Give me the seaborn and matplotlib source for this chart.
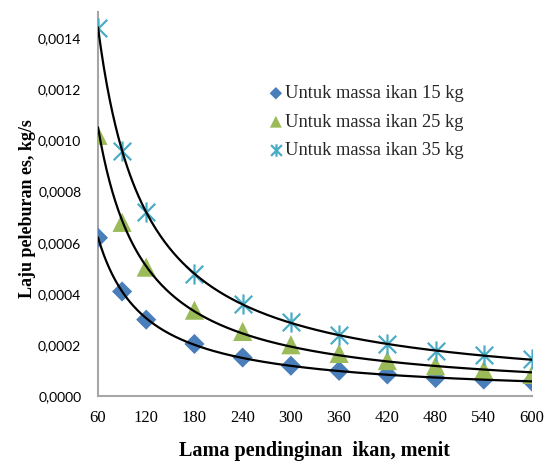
import numpy as np
import pandas as pd
import matplotlib
matplotlib.use("Agg")
import matplotlib.pyplot as plt
from matplotlib.path import Path
from matplotlib.ticker import FuncFormatter, MultipleLocator
import seaborn as sns

# Cooling time (minutes) and ice melting rate (kg/s) for three fish masses
waktu = [60, 90, 120, 180, 240, 300, 360, 420, 480, 540, 600]
laju_15 = [0.00062, 0.00041, 0.000300, 0.000205, 0.000152, 0.000120, 0.000100,
           0.000086, 0.000072, 0.000066, 0.000058]
laju_25 = [0.00102, 0.00068, 0.000505, 0.000337, 0.000254, 0.000202, 0.000168,
           0.000140, 0.000120, 0.000103, 0.000086]
laju_35 = [0.00144, 0.00096, 0.000720, 0.000478, 0.000362, 0.000290, 0.000240,
           0.000203, 0.000176, 0.000160, 0.000145]
label_15 = "Untuk massa ikan 15 kg"
label_25 = "Untuk massa ikan 25 kg"
label_35 = "Untuk massa ikan 35 kg"

sns.set_theme(style="white")
plt.rcParams["font.family"] = ["Liberation Serif", "DejaVu Serif"]

fig = plt.figure(figsize=(5.52, 4.61), dpi=100)
ax = fig.add_axes([0.1775, 0.14, 0.7863, 0.833])

# six-armed star marker: X with a vertical stroke
star = Path([(-1, -1), (1, 1), (-1, 1), (1, -1), (0, -1.15), (0, 1.15)],
            [Path.MOVETO, Path.LINETO, Path.MOVETO, Path.LINETO, Path.MOVETO, Path.LINETO])

series = [
    (laju_15, label_15, "#4A7EBB", "D", 105, None),
    (laju_25, label_25, "#9BBB59", "^", 190, None),
    (laju_35, label_35, "#4BACC6", star, 210, 1.6),
]

df = pd.DataFrame({"t": waktu})
for vals, lab, col, mk, sz, lw in series:
    df["y"] = vals
    if lw is None:
        sns.scatterplot(data=df, x="t", y="y", marker=mk, s=sz, color=col,
                        edgecolor="none", linewidth=0, label=lab, ax=ax, zorder=3)
    else:
        sns.scatterplot(data=df, x="t", y="y", marker=mk, s=sz, color=col,
                        edgecolor=col, linewidth=lw, label=lab, ax=ax, zorder=3)

# power-law trendlines y = a * t^b fitted in log space
t_fine = np.linspace(min(waktu), max(waktu), 300)
for vals, *_ in series:
    b, ln_a = np.polyfit(np.log(waktu), np.log(vals), 1)
    fit = pd.DataFrame({"t": t_fine, "y": np.exp(ln_a) * t_fine ** b})
    sns.lineplot(data=fit, x="t", y="y", color="black", linewidth=1.6,
                 ax=ax, zorder=4, legend=False)

ax.set_xlim(60, 600)
ax.set_ylim(0, 0.0015)
ax.xaxis.set_major_locator(MultipleLocator(60))
ax.set_yticks(np.arange(0, 0.00141, 0.0002))
ax.yaxis.set_major_formatter(FuncFormatter(lambda v, p: f"{v:.4f}".replace(".", ",")))

for s in ["top", "right"]:
    ax.spines[s].set_visible(False)
for s in ["left", "bottom"]:
    ax.spines[s].set_color("#A6A6A6")
    ax.spines[s].set_linewidth(1.5)

ax.tick_params(axis="both", length=0)
ax.tick_params(axis="x", pad=10, labelsize=12, labelcolor="black")
ax.tick_params(axis="y", pad=12, labelsize=10, labelcolor="black")
for lbl in ax.get_yticklabels():
    lbl.set_fontfamily(["Lato", "DejaVu Sans"])

ax.set_xlabel("Lama pendinginan  ikan, menit", fontsize=14.5, fontweight="bold", color="black")
ax.set_ylabel("Laju peleburan es, kg/s", fontsize=13, fontweight="bold", color="black")
ax.xaxis.set_label_coords(0.5, -0.116)
ax.yaxis.set_label_coords(-0.142, 0.49)

leg = ax.legend(loc="upper left", bbox_to_anchor=(0.38, 0.83), frameon=False,
                fontsize=13.3, markerscale=0.62, handlelength=0.6, handletextpad=0.2,
                labelspacing=0.62, borderaxespad=0)

fig.savefig("out.png", dpi=100)
